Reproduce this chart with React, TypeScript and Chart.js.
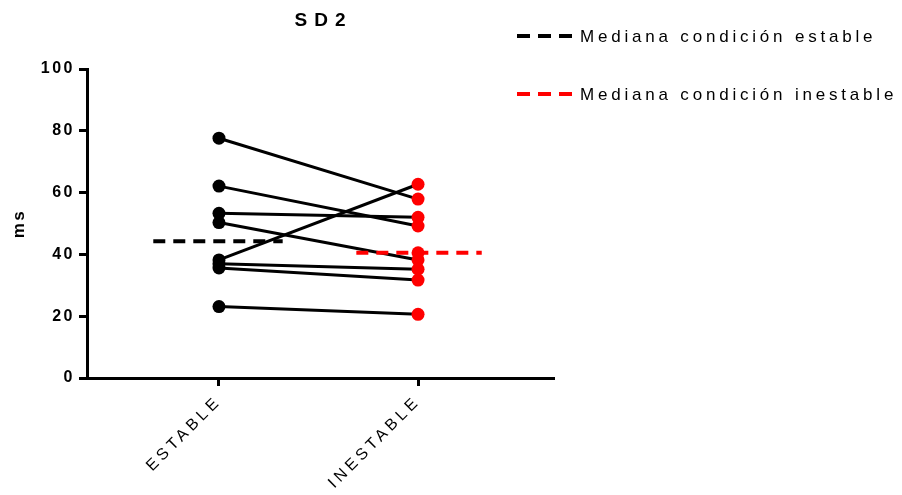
import React, { useEffect, useRef } from "react";
import { Chart, registerables } from "chart.js";

Chart.register(...registerables);

// Paired measurements (ms) per subject; null = no reading in that condition
const categories = ["ESTABLE", "INESTABLE"];
const estable: (number | null)[] = [77.6, 62.1, 53.3, 50.3, 38.2, 37.0, 35.6, 23.1, null];
const inestable: (number | null)[] = [57.9, 49.2, 52.0, 38.2, 62.7, 35.2, 31.7, 20.6, 40.5];
const yTicks = [0, 20, 40, 60, 80, 100];
const legendLabels = ["Mediana condición estable", "Mediana condición inestable"];
const legendColors = ["#000000", "#ff0000"];
const chartTitle = "SD2";
const yTitle = "ms";

const FONT = "'Liberation Sans', Arial, Helvetica, sans-serif";

function median(values: (number | null)[]): number {
  const v = values.filter((x): x is number => x !== null).sort((a, b) => a - b);
  const m = Math.floor(v.length / 2);
  return v.length % 2 ? v[m] : (v[m - 1] + v[m]) / 2;
}

const medEstable = median(estable);
const medInestable = median(inestable);

const textPlugin = {
  id: "spacedText",
  beforeDraw(chart: any) {
    chart.ctx.letterSpacing = "2.5px";
  },
  afterDatasetsDraw(chart: any) {
    chart.ctx.letterSpacing = "4px";
  },
  afterDraw(chart: any) {
    const ctx = chart.ctx as CanvasRenderingContext2D;
    const area = chart.chartArea;
    ctx.save();
    // title
    ctx.letterSpacing = "7px";
    ctx.font = `bold 19px ${FONT}`;
    ctx.fillStyle = "#000";
    ctx.textAlign = "center";
    ctx.textBaseline = "middle";
    ctx.fillText(chartTitle, (area.left + area.right) / 2 + 3.5, 21);
    // legend
    ctx.letterSpacing = "3.8px";
    ctx.font = `17px ${FONT}`;
    ctx.textAlign = "left";
    legendLabels.forEach((label, i) => {
      const y = 36 + i * 58;
      const x0 = area.right - 36;
      ctx.beginPath();
      ctx.setLineDash([13, 8]);
      ctx.lineWidth = 4;
      ctx.strokeStyle = legendColors[i];
      ctx.moveTo(x0, y);
      ctx.lineTo(x0 + 61, y);
      ctx.stroke();
      ctx.setLineDash([]);
      ctx.fillStyle = "#000";
      ctx.fillText(label, x0 + 63, y + 1);
    });
    ctx.restore();
    ctx.letterSpacing = "0px";
  },
};

export default function App() {
  const ref = useRef<HTMLCanvasElement>(null);

  useEffect(() => {
    if (!ref.current) return;

    const pairLines: any[] = [];
    estable.forEach((e, i) => {
      const r = inestable[i];
      if (e !== null && r !== null) {
        pairLines.push({
          data: [
            { x: 1, y: e },
            { x: 2, y: r },
          ],
          showLine: true,
          borderColor: "#000",
          borderWidth: 3,
          pointRadius: 0,
          order: 3,
        });
      }
    });

    const pointsEstable = estable
      .filter((v): v is number => v !== null)
      .map((y) => ({ x: 1, y }));
    const pointsInestable = inestable
      .filter((v): v is number => v !== null)
      .map((y) => ({ x: 2, y }));

    const chart = new Chart(ref.current, {
      type: "scatter",
      data: {
        datasets: [
          ...pairLines,
          {
            data: [
              { x: 0.67, y: medEstable },
              { x: 1.32, y: medEstable },
            ],
            showLine: true,
            borderColor: legendColors[0],
            borderWidth: 4,
            borderDash: [12, 8],
            pointRadius: 0,
            order: 2,
          },
          {
            data: [
              { x: 1.69, y: medInestable },
              { x: 2.32, y: medInestable },
            ],
            showLine: true,
            borderColor: legendColors[1],
            borderWidth: 4,
            borderDash: [12, 8],
            pointRadius: 0,
            order: 2,
          },
          {
            data: pointsEstable,
            pointRadius: 6.5,
            pointBackgroundColor: "#000",
            pointBorderWidth: 0,
            showLine: false,
            order: 0,
          },
          {
            data: pointsInestable,
            pointRadius: 6.5,
            pointBackgroundColor: "#ff0000",
            pointBorderWidth: 0,
            showLine: false,
            order: 0,
          },
        ],
      },
      options: {
        animation: false,
        responsive: false,
        layout: { padding: { left: 0, top: 69, right: 349, bottom: 0 } },
        plugins: {
          legend: { display: false },
          tooltip: { enabled: false },
          title: { display: false },
        },
        scales: {
          x: {
            type: "linear",
            min: 0.337,
            max: 2.678,
            afterBuildTicks: (axis: any) => {
              axis.ticks = categories.map((_, i) => ({ value: i + 1 }));
            },
            afterFit: (axis: any) => {
              axis.height = 117;
            },
            ticks: {
              z: 1,
              autoSkip: false,
              minRotation: 45,
              maxRotation: 45,
              padding: 6,
              color: "#000",
              font: { family: FONT, size: 16 },
              callback: (v: any) => categories[Math.round(Number(v)) - 1],
            },
            grid: {
              drawOnChartArea: false,
              drawTicks: true,
              tickLength: 8,
              lineWidth: 3,
              color: "#000",
            },
            border: { display: true, color: "#000", width: 3 },
          },
          y: {
            min: yTicks[0],
            max: yTicks[yTicks.length - 1],
            afterBuildTicks: (axis: any) => {
              axis.ticks = yTicks.map((value) => ({ value }));
            },
            afterFit: (axis: any) => {
              axis.width = 87;
            },
            ticks: {
              padding: 4,
              color: "#000",
              font: { family: FONT, size: 16, weight: "bold" },
            },
            title: {
              display: true,
              text: yTitle,
              color: "#000",
              padding: { top: 9, bottom: 0 },
              font: { family: FONT, size: 17, weight: "bold" },
            },
            grid: {
              drawOnChartArea: false,
              drawTicks: true,
              tickLength: 8,
              lineWidth: 3,
              color: "#000",
            },
            border: { display: true, color: "#000", width: 3 },
          },
        },
      },
      plugins: [textPlugin],
    });

    return () => chart.destroy();
  }, []);

  return (
    <div style={{ position: "absolute", left: 0, top: 0, width: 902, height: 495, background: "#fff" }}>
      <canvas ref={ref} width={902} height={495} />
    </div>
  );
}
